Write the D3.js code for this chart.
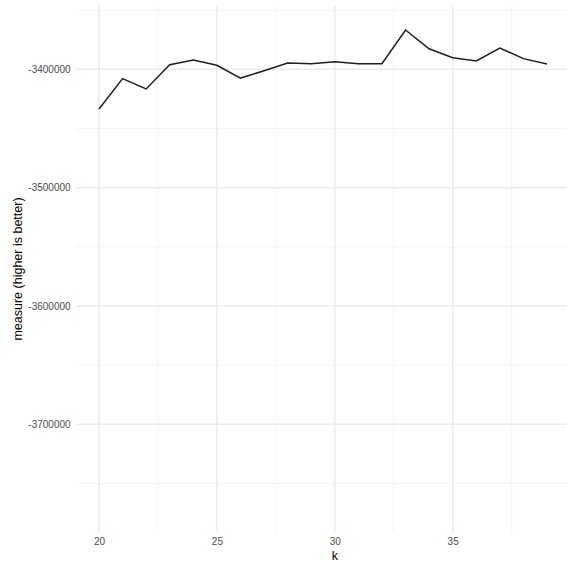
<!DOCTYPE html>
<html>
  <head>
    <meta charset="utf-8">
    <title></title>
    <script type="text/javascript" src="https://d3js.org/d3.v7.min.js"></script>
    <style media="screen">
      body { margin: 0; background: #fff; }
      text { font-family: "Liberation Sans", Arial, sans-serif; }
    </style>
  </head>
  <body>
    <div class="vis"></div>

    <script type="text/javascript">

      // k values and the measure for each k
      var kValues = [20, 21, 22, 23, 24, 25, 26, 27, 28, 29, 30, 31, 32, 33, 34, 35, 36, 37, 38, 39];
      var measure = [-3433500, -3407900, -3416600, -3396100, -3392100, -3396600, -3407400, -3401200,
                     -3394700, -3395300, -3393600, -3395300, -3395300, -3366800, -3382600, -3390200,
                     -3393000, -3382000, -3391000, -3395500];

      var xTicks = [20, 25, 30, 35];
      var xMinor = [22.5, 27.5, 32.5, 37.5];
      var yTicks = [-3400000, -3500000, -3600000, -3700000];
      var yMinor = [-3350000, -3450000, -3550000, -3650000, -3750000];

      var w = 567;
      var h = 562;
      var panel = { left: 76.6, right: 569.4, top: 6, bottom: 532 };

      var data = kValues.map(function(k, i) { return { k: k, v: measure[i] }; });

      var xscale = d3.scaleLinear()
        .domain([19.05, 39.95])
        .range([panel.left, panel.right]);

      var yscale = d3.scaleLinear()
        .domain([-3791000, -3346500])
        .range([panel.bottom, panel.top]);

      var svg = d3.select('.vis')
        .append('svg')
        .attr('width', w)
        .attr('height', h);

      // minor grid
      svg.selectAll('.xminor')
        .data(xMinor)
        .enter()
        .append('line')
        .attr('x1', function(d) { return xscale(d); })
        .attr('x2', function(d) { return xscale(d); })
        .attr('y1', panel.top)
        .attr('y2', panel.bottom)
        .attr('stroke', '#f1f1f1')
        .attr('stroke-width', 0.8);

      svg.selectAll('.yminor')
        .data(yMinor)
        .enter()
        .append('line')
        .attr('x1', panel.left)
        .attr('x2', panel.right)
        .attr('y1', function(d) { return yscale(d); })
        .attr('y2', function(d) { return yscale(d); })
        .attr('stroke', '#f1f1f1')
        .attr('stroke-width', 0.8);

      // major grid
      svg.selectAll('.xmajor')
        .data(xTicks)
        .enter()
        .append('line')
        .attr('x1', function(d) { return xscale(d); })
        .attr('x2', function(d) { return xscale(d); })
        .attr('y1', panel.top)
        .attr('y2', panel.bottom)
        .attr('stroke', '#ebebeb')
        .attr('stroke-width', 1.5);

      svg.selectAll('.ymajor')
        .data(yTicks)
        .enter()
        .append('line')
        .attr('x1', panel.left)
        .attr('x2', panel.right)
        .attr('y1', function(d) { return yscale(d); })
        .attr('y2', function(d) { return yscale(d); })
        .attr('stroke', '#ebebeb')
        .attr('stroke-width', 1.5);

      var line = d3.line()
        .x(function(d) { return xscale(d.k); })
        .y(function(d) { return yscale(d.v); });

      svg.append('path')
        .datum(data)
        .attr('d', line)
        .attr('fill', 'none')
        .attr('stroke', '#1f1f1f')
        .attr('stroke-width', 1.5);

      // axes without domain lines/ticks, ggplot minimal style
      // plain hyphen for negatives, like R prints them
      var plain = function(d) { return String(d); };

      var xAxis = d3.axisBottom(xscale)
        .tickValues(xTicks)
        .tickSize(0)
        .tickPadding(0)
        .tickFormat(plain);

      var yAxis = d3.axisLeft(yscale)
        .tickValues(yTicks)
        .tickSize(0)
        .tickPadding(6)
        .tickFormat(plain);

      var gx = svg.append('g')
        .attr('class', 'x axis')
        .attr('transform', 'translate(0,' + panel.bottom + ')')
        .call(xAxis);
      gx.select('.domain').remove();
      gx.selectAll('text')
        .attr('y', 12.5)
        .attr('dy', 0)
        .attr('fill', '#4d4d4d')
        .style('font-size', '10px');

      var gy = svg.append('g')
        .attr('class', 'y axis')
        .attr('transform', 'translate(' + panel.left + ',0)')
        .call(yAxis);
      gy.select('.domain').remove();
      gy.selectAll('text')
        .attr('fill', '#4d4d4d')
        .style('font-size', '10px');

      svg.append('text')
        .attr('transform', 'translate(22,' + ((panel.top + panel.bottom) / 2) + ')rotate(-90)')
        .attr('text-anchor', 'middle')
        .attr('fill', '#000')
        .style('font-size', '12.5px')
        .text('measure (higher is better)');

      svg.append('text')
        .attr('x', xscale(30))
        .attr('y', 560)
        .attr('text-anchor', 'middle')
        .attr('fill', '#000')
        .style('font-size', '12.5px')
        .text('k');

    </script>
  </body>
</html>
